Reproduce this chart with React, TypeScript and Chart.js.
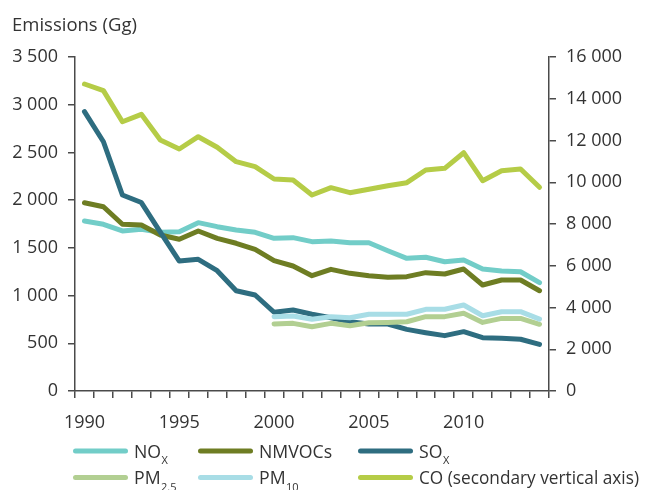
import React, { useEffect, useRef } from "react";
import { Chart, registerables } from "chart.js";

Chart.register(...registerables);

const years = [
  "1990", "1991", "1992", "1993", "1994", "1995", "1996", "1997", "1998", "1999",
  "2000", "2001", "2002", "2003", "2004", "2005", "2006", "2007", "2008", "2009",
  "2010", "2011", "2012", "2013", "2014",
];

const noxValues = [1781, 1747, 1677, 1694, 1663, 1669, 1764, 1722, 1687, 1663, 1600, 1607, 1565, 1572, 1554, 1554, 1470, 1390, 1401, 1355, 1373, 1278, 1257, 1250, 1135];
const nmvocValues = [1973, 1931, 1747, 1740, 1635, 1590, 1677, 1600, 1548, 1485, 1366, 1310, 1208, 1275, 1233, 1208, 1191, 1198, 1240, 1226, 1278, 1111, 1163, 1163, 1051];
const soxValues = [2927, 2612, 2054, 1975, 1665, 1362, 1380, 1261, 1051, 1006, 825, 849, 804, 768, 726, 702, 702, 646, 611, 580, 622, 559, 552, 542, 489];
const pm25Values = [null, null, null, null, null, null, null, null, null, null, 702, 709, 674, 709, 684, 716, 719, 726, 779, 779, 814, 719, 761, 761, 699];
const pm10Values = [null, null, null, null, null, null, null, null, null, null, 779, 786, 751, 779, 768, 804, 804, 804, 856, 856, 901, 789, 831, 831, 754];
const coValues = [14706, 14390, 12900, 13255, 12024, 11593, 12182, 11674, 10985, 10745, 10156, 10108, 9389, 9740, 9500, 9662, 9835, 9980, 10587, 10667, 11415, 10074, 10553, 10635, 9758];

const seriesNames = ["NOx", "NMVOCs", "SOx", "PM2.5", "PM10", "CO (secondary vertical axis)"];
const legendMain = ["NO", "NMVOCs", "SO", "PM", "PM", "CO (secondary vertical axis)"];
const legendSub = ["X", "", "X", "2.5", "10", ""];
const colors = ["#72cdc8", "#6e7d23", "#2e6d80", "#b2cf92", "#a8dde6", "#b5cc47"];

const axisTitle = "Emissions (Gg)";
const leftMax = 3500;
const leftStep = 500;
const rightMax = 16000;
const rightStep = 2000;

const FONT = "'Open Sans', 'Noto Sans', sans-serif";
const TEXT = "#333333";
const AXIS = "#4a4a4a";

const fmt = (v: number) => String(v).replace(/\B(?=(\d{3})+(?!\d))/g, " ");

const overlayPlugin = {
  id: "overlay",
  afterDraw(chart: any) {
    const ctx = chart.ctx;
    ctx.save();
    ctx.fillStyle = TEXT;
    ctx.font = `18.5px ${FONT}`;
    ctx.textAlign = "left";
    ctx.textBaseline = "alphabetic";
    ctx.fillText(axisTitle, 4, 23);

    const cols = [65, 190, 350];
    const rows = [443, 469.5];
    const lineLen = 55;
    chart.data.datasets.forEach((ds: any, i: number) => {
      const col = cols[i % 3];
      const row = rows[Math.floor(i / 3)];
      ctx.strokeStyle = ds.borderColor;
      ctx.lineWidth = 5;
      ctx.lineCap = "round";
      ctx.beginPath();
      ctx.moveTo(col + 2.5, row);
      ctx.lineTo(col + lineLen - 2.5, row);
      ctx.stroke();
      ctx.fillStyle = TEXT;
      ctx.font = `17.7px ${FONT}`;
      const tx = col + lineLen + 6;
      const base = row + 6.5;
      ctx.fillText(legendMain[i], tx, base, 631 - tx);
      if (legendSub[i]) {
        const w = ctx.measureText(legendMain[i]).width;
        ctx.font = `11px ${FONT}`;
        ctx.fillText(legendSub[i], tx + w + 0.5, base + 6.5);
      }
    });
    ctx.restore();
  },
};

export default function App() {
  const ref = useRef<HTMLCanvasElement | null>(null);

  useEffect(() => {
    document.documentElement.style.overflow = "hidden";
    if (!ref.current) return;
    const mk = (i: number, data: (number | null)[], axis: string, order: number) => ({
      label: seriesNames[i],
      data,
      yAxisID: axis,
      borderColor: colors[i],
      backgroundColor: colors[i],
      borderWidth: 5,
      pointRadius: 0,
      tension: 0,
      borderJoinStyle: "round" as const,
      borderCapStyle: "round" as const,
      spanGaps: false,
      order,
    });
    const chart = new Chart(ref.current, {
      type: "line",
      data: {
        labels: years,
        datasets: [
          mk(0, noxValues, "y", 5),
          mk(1, nmvocValues, "y", 4),
          mk(2, soxValues, "y", 3),
          mk(3, pm25Values, "y", 2),
          mk(4, pm10Values, "y", 1),
          mk(5, coValues, "y1", 6),
        ],
      },
      options: {
        responsive: false,
        animation: false,
        layout: { padding: { top: 49, left: 0, right: 0, bottom: 0 } },
        plugins: {
          legend: { display: false },
          tooltip: { enabled: false },
          title: { display: false },
        },
        scales: {
          x: {
            type: "category",
            offset: true,
            grid: { offset: true, drawOnChartArea: false, drawTicks: true, tickLength: 7, color: AXIS, lineWidth: 1.5 },
            border: { display: true, color: AXIS, width: 1.5 },
            ticks: {
              autoSkip: false,
              maxRotation: 0,
              padding: 14,
              color: TEXT,
              font: { family: FONT, size: 18 },
              callback: (_v: any, idx: number) => (Number(years[idx]) % 5 === 0 ? years[idx] : ""),
            },
            afterFit: (s: any) => {
              s.height = 99;
            },
          },
          y: {
            position: "left",
            min: 0,
            max: leftMax,
            grid: { drawOnChartArea: false, drawTicks: true, tickLength: 7, color: AXIS, lineWidth: 1.5 },
            border: { display: true, color: AXIS, width: 1.5 },
            ticks: {
              stepSize: leftStep,
              padding: 10,
              color: TEXT,
              font: { family: FONT, size: 18 },
              callback: (v: any) => fmt(Number(v)),
            },
            afterFit: (s: any) => {
              s.width = 67;
            },
          },
          y1: {
            position: "right",
            min: 0,
            max: rightMax,
            grid: { drawOnChartArea: false, drawTicks: true, tickLength: 7, color: AXIS, lineWidth: 1.5 },
            border: { display: true, color: AXIS, width: 1.5 },
            ticks: {
              stepSize: rightStep,
              padding: 10,
              color: TEXT,
              font: { family: FONT, size: 18 },
              callback: (v: any) => fmt(Number(v)),
            },
            afterFit: (s: any) => {
              s.width = 99;
            },
          },
        },
      },
      plugins: [overlayPlugin],
    });
    return () => chart.destroy();
  }, []);

  return (
    <div style={{ width: 640, height: 482 }}>
      <canvas ref={ref} width={640} height={482} style={{ display: "block" }} />
    </div>
  );
}
